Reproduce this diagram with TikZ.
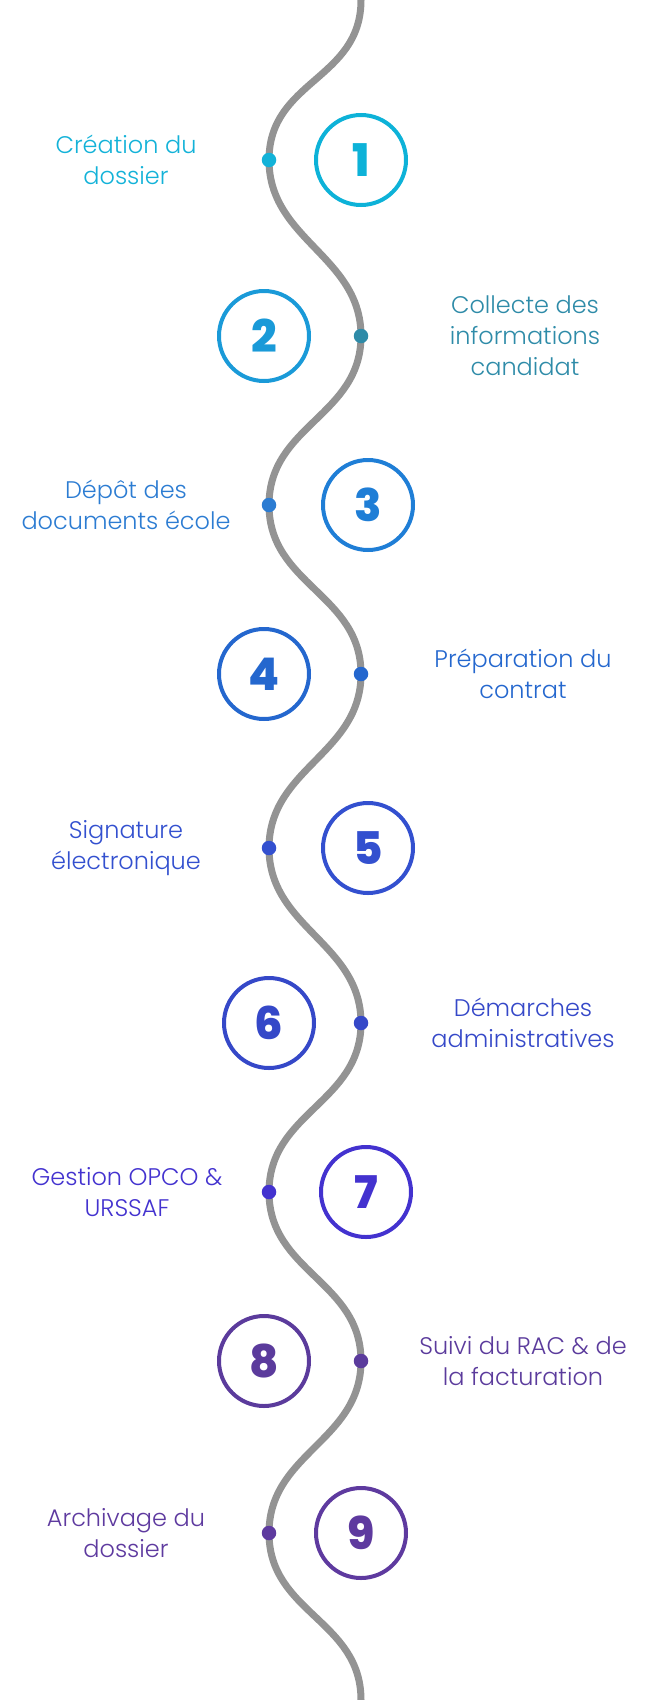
\documentclass[tikz,border=0pt]{standalone}
\usepackage{fontspec}
\setmainfont{Poppins}
\IfFontExistsTF{Poppins Light}
  {\newfontfamily\lightfont{Poppins Light}}
  {\newfontfamily\lightfont{Poppins}}
\IfFontExistsTF{Poppins ExtraBold}
  {\newfontfamily\heavyfont{Poppins ExtraBold}}
  {\newfontfamily\heavyfont{Poppins}[FakeBold=1.5]}
\usetikzlibrary{positioning,backgrounds}

\definecolor{wavegrey}{HTML}{939393}
\definecolor{cA}{HTML}{0DB2D8}
\definecolor{tA}{HTML}{13B2D8}
\definecolor{cB}{HTML}{1A9AD8}
\definecolor{tB}{HTML}{2E8BA8}
\definecolor{cC}{HTML}{1F7ED6}
\definecolor{tC}{HTML}{2C7CD2}
\definecolor{cD}{HTML}{2467CE}
\definecolor{cE}{HTML}{3350CF}
\definecolor{cF}{HTML}{3548C8}
\definecolor{cG}{HTML}{4332CF}
\definecolor{cH}{HTML}{5B3B9C}
\definecolor{cI}{HTML}{5E3A9F}

\begin{document}
\begin{tikzpicture}[
    x=1pt, y=-1pt,
    waveline/.style={draw=wavegrey, line width=7pt},
    stepdot/.style={circle, minimum size=14.5pt, inner sep=0pt},
    numcircle/.style={circle, line width=4pt, minimum size=90pt, inner sep=0pt,
      font=\heavyfont\fontsize{45}{45}\selectfont},
    steplabel/.style={align=center, inner sep=0pt,
      font=\lightfont\fontsize{24}{31}\selectfont},
  ]
    \useasboundingbox (0,0) rectangle (650,1700);

    % ---------- steps ----------
    \foreach \n/\dx/\cx/\y/\c/\t/\lx/\txt in {
      1/269/361/160/cA/tA/126/{Création du\\dossier},
      2/361/264/336/cB/tB/525/{Collecte des\\informations\\candidat},
      3/269/368/505/cC/tC/126/{Dépôt des\\documents école},
      4/361/264/674/cD/cD/523/{Préparation du\\contrat},
      5/269/368/848/cE/cE/126/{Signature\\électronique},
      6/361/269/1023/cF/cF/523/{Démarches\\administratives},
      7/269/366/1192/cG/cG/127/{Gestion OPCO \&\\URSSAF},
      8/361/264/1361/cH/cH/523/{Suivi du RAC \& de\\la facturation},
      9/269/361/1533/cI/cI/126/{Archivage du\\dossier}} {
      \node[stepdot, fill=\t] (dot\n) at (\dx,\y) {};
      \node[numcircle, draw=\c, text=\c] (num\n) at (\cx,\y) {\n};
      \node[steplabel, text=\t] (lab\n) at (\lx,\y) {\txt};
    }

    % ---------- wave ----------
    \coordinate (top) at (361,0);
    \coordinate (bottom) at (361,1700);
    \begin{scope}[on background layer]
      \draw[waveline] (top)
        .. controls +(0,80) and +(0,-80) .. (dot1.center)
        .. controls +(0,80) and +(0,-80) .. (dot2.center)
        .. controls +(0,80) and +(0,-80) .. (dot3.center)
        .. controls +(0,80) and +(0,-80) .. (dot4.center)
        .. controls +(0,80) and +(0,-80) .. (dot5.center)
        .. controls +(0,80) and +(0,-80) .. (dot6.center)
        .. controls +(0,80) and +(0,-80) .. (dot7.center)
        .. controls +(0,80) and +(0,-80) .. (dot8.center)
        .. controls +(0,80) and +(0,-80) .. (dot9.center)
        .. controls +(0,80) and +(0,-80) .. (bottom);
    \end{scope}
  \end{tikzpicture}
\end{document}
